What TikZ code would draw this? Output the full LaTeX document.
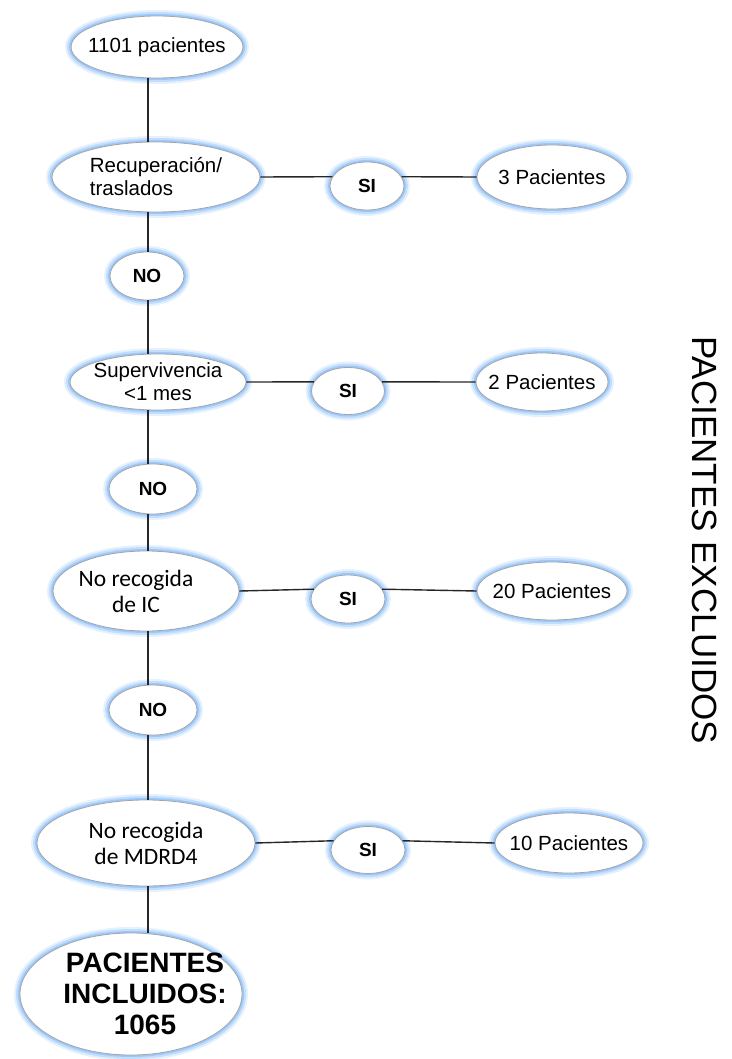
\documentclass[tikz,border=0pt]{standalone}
\usepackage{fontspec}
\setmainfont{Liberation Sans}
\newfontfamily\carlito{Carlito}
\usetikzlibrary{shapes.geometric}
\definecolor{glowc}{RGB}{130,185,250}
\definecolor{rimc}{RGB}{165,165,165}
\tikzset{
  bub/.style={ellipse, draw=rimc, line width=0.8pt, fill=white, inner sep=-8pt, align=center,
    preaction={draw=glowc, line width=12pt, opacity=0.2},
    preaction={draw=glowc, line width=8pt, opacity=0.35},
    preaction={draw=glowc, line width=4pt, opacity=0.6},
    font=\fontsize{20.5}{23}\selectfont},
  yn/.style={bub, font=\fontsize{19}{21}\selectfont\bfseries},
  cal/.style={bub, font=\carlito\fontsize{23.5}{26}\selectfont},
  link/.style={line width=1.4pt, black!85}
}
\begin{document}
\begin{tikzpicture}[x=1pt,y=-1pt]
\useasboundingbox (0,0) rectangle (731,1059);
\coordinate (col) at (148,0);
% main column
\node[bub, minimum width=168pt, minimum height=62pt] (n1) at (157,47) {1101 pacientes};
\node[bub, align=left, minimum width=208pt, minimum height=70pt] (r1) at (156,177) {Recuperación/\\traslados};
\node[yn, minimum width=74pt, minimum height=48pt] (no1) at (147,276) {NO};
\node[bub, minimum width=176pt, minimum height=56pt] (r2) at (158,382) {Supervivencia\\<1 mes};
\node[yn, minimum width=88pt, minimum height=50pt] (no2) at (153,489) {NO};
\node[cal, minimum width=186pt, minimum height=80pt] (r3) at (146,591) {No recogida\hspace*{20pt}\\de IC\hspace*{20pt}};
\node[yn, minimum width=88pt, minimum height=50pt] (no3) at (153,710) {NO};
\node[cal, minimum width=218pt, minimum height=86pt] (r4) at (146,843) {No recogida\\de MDRD4};
\node[bub, minimum width=222pt, minimum height=122pt] (inc) at (131,994) {};
\node[align=center, inner sep=0pt, font=\fontsize{28}{31}\selectfont\bfseries] (inct) at (145,994) {PACIENTES\\INCLUIDOS:\\1065};
% SI nodes
\node[yn, minimum width=74pt, minimum height=48pt] (s1) at (367,186) {SI};
\node[yn, minimum width=73pt, minimum height=47pt] (s2) at (348,391) {SI};
\node[yn, minimum width=74pt, minimum height=48pt] (s3) at (348,599) {SI};
\node[yn, minimum width=74pt, minimum height=47pt] (s4) at (368,850) {SI};
% excluded
\node[bub, minimum width=150pt, minimum height=64pt] (p1) at (552,177) {3 Pacientes};
\node[bub, minimum width=132pt, minimum height=58pt] (p2) at (542,382) {2 Pacientes};
\node[bub, minimum width=150pt, minimum height=58pt] (p3) at (552,591) {20 Pacientes};
\node[bub, minimum width=148pt, minimum height=60pt] (p4) at (569,843) {10 Pacientes};
% side label
\node[rotate=-90, font=\fontsize{35}{38}\selectfont] (side) at (705,540) {PACIENTES EXCLUIDOS};
% vertical connectors
\foreach \a/\b in {n1/r1, r1/no1, no1/r2, r2/no2, no2/r3, r3/no3, no3/r4, r4/inc}
  \draw[link] (\a.south -| col) -- (\b.north -| col);
% horizontal connectors
\foreach \a/\b/\c/\t in {r1/s1/p1/15, r2/s2/p2/15, r3/s3/p3/16, r4/s4/p4/15}{
  \draw[link] (\a.east) -- (\b.\the\numexpr180-\t\relax);
  \draw[link] (\b.\t) -- (\c.west);
}
\end{tikzpicture}
\end{document}
